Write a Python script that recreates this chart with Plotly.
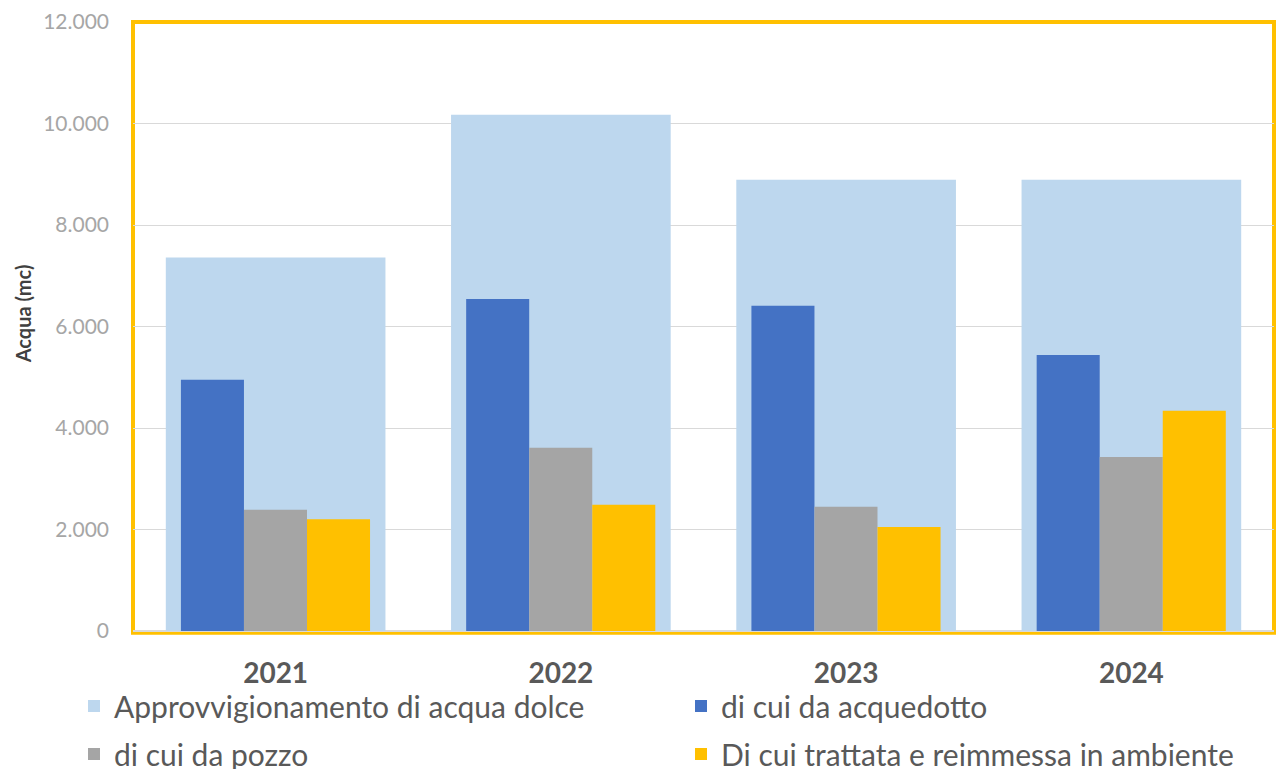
import plotly.graph_objects as go

years = ["2021", "2022", "2023", "2024"]
approvvigionamento = [7360, 10170, 8890, 8890]
acquedotto = [4950, 6540, 6410, 5440]
pozzo = [2390, 3610, 2450, 3430]
trattata = [2200, 2490, 2050, 4340]

names = [
    "Approvvigionamento di acqua dolce",
    "di cui da acquedotto",
    "di cui da pozzo",
    "Di cui trattata e reimmessa in ambiente",
]
colors = ["#BDD7EE", "#4472C4", "#A5A5A5", "#FFC000"]

series = [approvvigionamento, acquedotto, pozzo, trattata]
widths = [0.77, 0.221, 0.221, 0.221]
offsets = [-0.385, -0.332, -0.111, 0.11]
legend_ids = ["legend", "legend2", "legend3", "legend4"]

fig = go.Figure()
for vals, name, col, w, off, lg in zip(series, names, colors, widths, offsets, legend_ids):
    fig.add_trace(go.Bar(
        x=years, y=vals, name=name,
        marker_color=col, marker_line_width=0,
        width=w, offset=off, legend=lg, showlegend=True,
    ))

# one legend per entry so the 2x2 grid sits where the original has it
legend_font = dict(family="Lato, Open Sans, sans-serif", size=30, color="#595959")
legend_pos = {
    "legend": (74 / 1276, 1 - 706 / 769),
    "legend2": (681 / 1276, 1 - 706 / 769),
    "legend3": (74 / 1276, 1 - 754 / 769),
    "legend4": (681 / 1276, 1 - 754 / 769),
}
legends = {
    k: dict(x=x, y=y, xref="container", yref="container",
            xanchor="left", yanchor="middle", orientation="h",
            font=legend_font, bgcolor="rgba(0,0,0,0)")
    for k, (x, y) in legend_pos.items()
}

fig.update_layout(
    barmode="overlay",
    width=1276, height=769,
    showlegend=True,
    margin=dict(l=133, r=2, t=22, b=138, autoexpand=False),
    plot_bgcolor="white", paper_bgcolor="white",
    font=dict(family="Lato, Open Sans, sans-serif"),
    separators=",.",
    xaxis=dict(
        type="category", range=[-0.5, 3.5], automargin=False,
        showgrid=False, showline=False, zeroline=False,
        ticks="", ticklabelstandoff=23,
        tickfont=dict(size=28, color="#595959", weight="bold"),
    ),
    yaxis=dict(
        range=[0, 12000], tickvals=[0, 2000, 4000, 6000, 8000, 10000, 12000],
        tickformat=",d", automargin=False,
        showgrid=True, gridcolor="#D9D9D9", gridwidth=1,
        zeroline=True, zerolinecolor="#D9D9D9", zerolinewidth=2,
        showline=False, ticks="", ticklabelstandoff=23,
        tickfont=dict(size=21, color="#A6A6A6"),
    ),
    **legends,
)

# y axis title placed by hand
fig.add_annotation(
    text="<b>Acqua (mc)</b>", textangle=-90,
    xref="paper", yref="paper", x=(23 - 133) / 1141, y=0.52,
    xanchor="center", yanchor="middle", showarrow=False,
    font=dict(size=20, color="#404040"),
)

# yellow frame around the plot area
fig.add_shape(
    type="rect", xref="paper", yref="paper", x0=0, x1=1, y0=-0.003, y1=1,
    line=dict(color="#FFC000", width=4), fillcolor="rgba(0,0,0,0)", layer="below",
)

fig.write_html(
    "out.html",
    config={"displayModeBar": False},
    post_script="document.body.style.margin='0';document.body.style.overflow='hidden';",
)
